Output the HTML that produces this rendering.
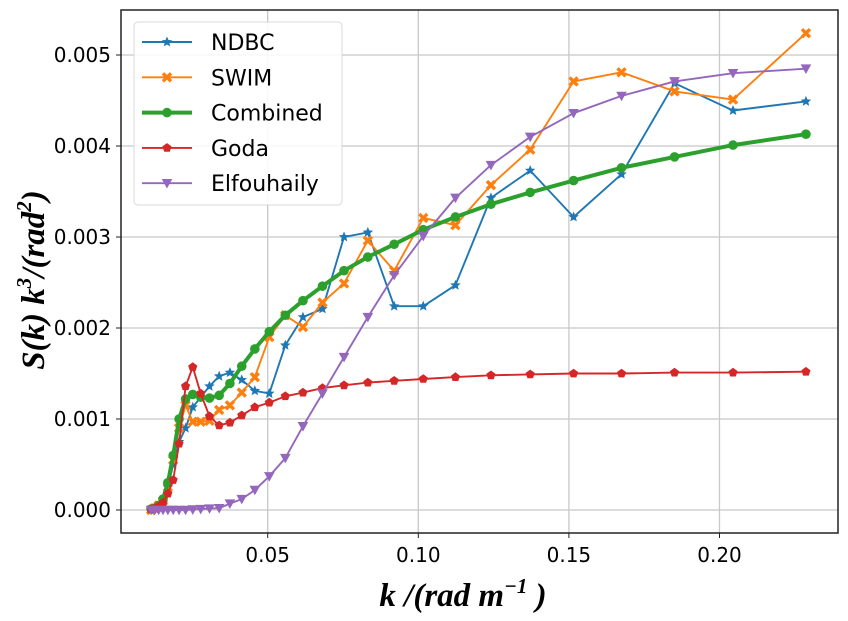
<!DOCTYPE html>
<html><head><meta charset="utf-8"><style>
body{margin:0;background:#fff;}
svg{display:block;font-family:"DejaVu Sans","Liberation Sans",sans-serif;}
</style></head><body>
<svg id="chart" width="848" height="621">
<g id="grid"></g>
<g id="series"></g>
<rect x="121" y="10" width="717" height="523" fill="none" stroke="#222" stroke-width="1.5"/>
<g id="ticks"></g>
<text x="463" y="606" text-anchor="middle" font-family="Liberation Serif,serif" font-style="italic" font-weight="bold" font-size="33">k /(rad m<tspan font-size="21" dy="-13">−1</tspan><tspan dy="13"> )</tspan></text>
<text transform="translate(44,280) rotate(-90)" text-anchor="middle" font-family="Liberation Serif,serif" font-style="italic" font-weight="bold" font-size="33">S(k) k<tspan font-size="21" dy="-13">3</tspan><tspan dy="13">/(rad</tspan><tspan font-size="21" dy="-13">2</tspan><tspan dy="13">)</tspan></text>
<g id="legend"></g>
</svg>
<script>
const kVals=[0.0113,0.0125,0.0138,0.01525,0.01685,0.01862,0.02057,0.02273,0.02512,0.02776,0.03067,0.03389,0.03745,0.04138,0.04573,0.05053,0.05584,0.0617,0.06818,0.07534,0.08325,0.09199,0.10165,0.11233,0.12412,0.13715,0.15155,0.16747,0.18506,0.20449,0.2287];
const ndbc=[0,0.02,0.05,0.12,0.25,0.5,0.75,0.90,1.13,1.24,1.36,1.47,1.51,1.43,1.31,1.28,1.81,2.12,2.21,3.00,3.05,2.24,2.24,2.47,3.43,3.73,3.22,3.69,4.69,4.39,4.49];
const swim=[0,0.02,0.05,0.1,0.25,0.55,0.9,1.15,0.97,0.97,0.98,1.10,1.15,1.29,1.46,1.9,2.14,2.01,2.28,2.49,2.96,2.63,3.21,3.13,3.57,3.96,4.71,4.81,4.60,4.51,5.24];
const combined=[0.01,0.02,0.05,0.12,0.3,0.6,1.0,1.22,1.27,1.24,1.23,1.26,1.39,1.58,1.77,1.96,2.14,2.30,2.46,2.63,2.78,2.92,3.08,3.22,3.36,3.49,3.62,3.76,3.88,4.01,4.13];
const goda=[0.01,0.02,0.04,0.08,0.18,0.33,0.73,1.36,1.57,1.28,1.03,0.93,0.96,1.04,1.13,1.18,1.25,1.29,1.34,1.37,1.40,1.42,1.44,1.46,1.48,1.49,1.50,1.50,1.51,1.51,1.52];
const elf=[0,0,0,0,0,0,0,0,0.005,0.01,0.015,0.02,0.07,0.12,0.22,0.37,0.57,0.92,1.28,1.68,2.12,2.58,3.01,3.43,3.79,4.10,4.36,4.55,4.71,4.80,4.85];
const xTicks=[0.05,0.10,0.15,0.20];
const xTickLabels=["0.05","0.10","0.15","0.20"];
const yTicks=[0,1,2,3,4,5];
const yTickLabels=["0.000","0.001","0.002","0.003","0.004","0.005"];
const seriesNames=["NDBC","SWIM","Combined","Goda","Elfouhaily"];

const NS="http://www.w3.org/2000/svg";
const X=k=>117.1+k*3012;
const Y=v=>510-v*91;
function mk(tag,attrs,parent){const e=document.createElementNS(NS,tag);for(const a in attrs)e.setAttribute(a,attrs[a]);parent.appendChild(e);return e;}
const grid=document.getElementById('grid'),ticks=document.getElementById('ticks'),ser=document.getElementById('series'),leg=document.getElementById('legend');
xTicks.forEach((t,i)=>{
  const g=mk('line',{x1:X(t),x2:X(t),y1:10,y2:533,stroke:'#c8c8c8','stroke-width':1.3},grid);
  
  const tk=mk('line',{x1:X(t),x2:X(t),y1:533,y2:538,stroke:'#222'},ticks);
  
  const tx=mk('text',{x:X(t),y:562,'text-anchor':'middle','font-size':20},ticks);tx.textContent=xTickLabels[i];
  
});
yTicks.forEach((t,i)=>{
  const g=mk('line',{x1:121,x2:838,y1:Y(t),y2:Y(t),stroke:'#c8c8c8','stroke-width':1.3},grid);
  
  const tk=mk('line',{x1:116,x2:121,y1:Y(t),y2:Y(t),stroke:'#222'},ticks);
  
  const tx=mk('text',{x:111,y:Y(t)+7,'text-anchor':'end','font-size':20},ticks);tx.textContent=yTickLabels[i];
  
});
function marker(type,x,y,c,s,parent){
  let e;
  if(type==='circle')e=mk('circle',{cx:x,cy:y,r:s,fill:c},parent);
  else if(type==='tri')e=mk('path',{d:`M${x-s},${y-s*0.8}L${x+s},${y-s*0.8}L${x},${y+s}Z`,fill:c},parent);
  else if(type==='star'){let d='';for(let i=0;i<10;i++){const r=i%2?s*0.45:s;const a=-Math.PI/2+i*Math.PI/5;d+=(i?'L':'M')+(x+r*Math.cos(a)).toFixed(1)+','+(y+r*Math.sin(a)).toFixed(1);}e=mk('path',{d:d+'Z',fill:c},parent);}
  else if(type==='x'){e=mk('path',{d:`M${x-s},${y-s}L${x+s},${y+s}M${x-s},${y+s}L${x+s},${y-s}`,stroke:c,'stroke-width':3.4},parent);}
  else if(type==='pent'){let d='';for(let i=0;i<5;i++){const a=-Math.PI/2+i*2*Math.PI/5;d+=(i?'L':'M')+(x+s*Math.cos(a)).toFixed(1)+','+(y+s*Math.sin(a)).toFixed(1);}e=mk('path',{d:d+'Z',fill:c},parent);}
  return e;
}
const specs=[[ndbc,'#1f77b4',1.9,'star',5.5],[swim,'#ff7f0e',1.9,'x',4],[combined,'#2ca02c',4,'circle',4.8],[goda,'#d62728',1.9,'pent',4.8],[elf,'#9467bd',1.9,'tri',5.3]];
const names=['ndbc','swim','combined','goda','elfouhaily'];
specs.forEach((s,si)=>{
  const [vals,c,w,m,ms]=s;
  const g=mk('g',{},ser);
  
  
  const pts=vals.map((v,i)=>X(kVals[i]).toFixed(1)+','+Y(v).toFixed(1)).join(' ');
  const pl=mk('polyline',{points:pts,fill:'none',stroke:c,'stroke-width':w,'stroke-linejoin':'round'},g);
  
  
  vals.forEach((v,i)=>{const e=marker(m,X(kVals[i]),Y(v),c,ms,g);
    
    });
});
const box=mk('rect',{x:134,y:22,width:208,height:183,rx:4,fill:'#fff','fill-opacity':0.85,stroke:'#d8d8d8'},leg);

specs.forEach((s,si)=>{
  const y=42+si*35.3;const [vals,c,w,m,ms]=s;
  const g=mk('g',{},leg);
  
  
  mk('line',{x1:142,x2:192,y1:y,y2:y,stroke:c,'stroke-width':w},g);
  marker(m,167,y,c,ms,g);
  const t=mk('text',{x:211,y:y+8,'font-size':22},g);t.textContent=seriesNames[si];
});
</script>
</body></html>
